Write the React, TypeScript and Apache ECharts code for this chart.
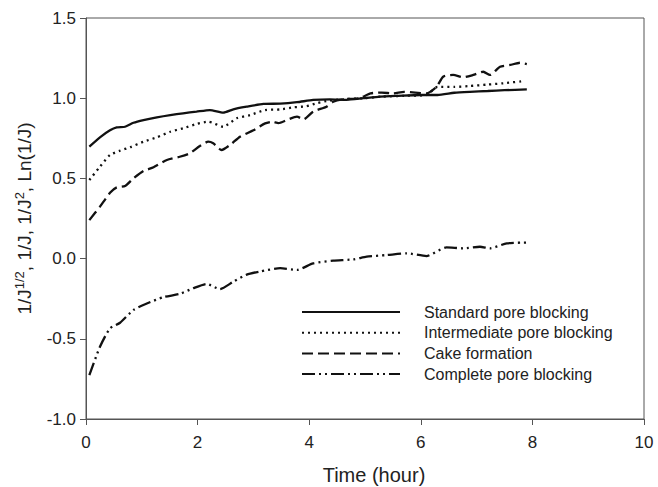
import React, { useEffect, useRef } from "react";
import * as echarts from "echarts";

const seriesNames = [
  "Standard pore blocking",
  "Intermediate pore blocking",
  "Cake formation",
  "Complete pore blocking",
];

const standardT = [0.06, 0.25, 0.43, 0.55, 0.7, 0.85, 1.03, 1.27, 1.51, 1.74, 1.98, 2.22, 2.46, 2.64, 2.88, 3.18, 3.48, 3.78, 4.07, 4.37, 4.67, 4.97, 5.27, 5.6, 5.99, 6.3, 6.6, 6.88, 7.2, 7.5, 7.9];
const standardV = [0.698, 0.756, 0.8, 0.818, 0.822, 0.847, 0.864, 0.881, 0.895, 0.906, 0.916, 0.926, 0.91, 0.931, 0.947, 0.964, 0.966, 0.975, 0.989, 0.993, 0.99, 1.0, 1.01, 1.015, 1.02, 1.02, 1.034, 1.04, 1.045, 1.05, 1.055];

const intermediateT = [0.06, 0.25, 0.43, 0.61, 0.79, 1.03, 1.27, 1.51, 1.74, 1.98, 2.19, 2.46, 2.7, 2.94, 3.21, 3.48, 3.72, 3.95, 4.15, 4.35, 4.7, 5.0, 5.3, 5.7, 6.1, 6.3, 6.6, 6.88, 7.2, 7.48, 7.85];
const intermediateV = [0.49, 0.573, 0.646, 0.673, 0.694, 0.729, 0.756, 0.791, 0.812, 0.839, 0.854, 0.822, 0.875, 0.895, 0.926, 0.93, 0.943, 0.95, 0.97, 0.985, 0.995, 1.0, 1.01, 1.015, 1.02, 1.07, 1.07, 1.076, 1.085, 1.093, 1.107];

const cakeT = [0.06, 0.25, 0.43, 0.55, 0.7, 0.85, 1.03, 1.21, 1.45, 1.68, 1.86, 2.04, 2.19, 2.28, 2.43, 2.58, 2.76, 3.0, 3.21, 3.33, 3.45, 3.6, 3.78, 3.9, 4.07, 4.31, 4.43, 4.6, 4.9, 5.1, 5.3, 5.5, 5.7, 5.9, 6.1, 6.28, 6.4, 6.58, 6.76, 6.94, 7.12, 7.24, 7.42, 7.6, 7.78, 7.9];
const cakeV = [0.24, 0.324, 0.41, 0.444, 0.453, 0.5, 0.546, 0.569, 0.615, 0.635, 0.656, 0.702, 0.729, 0.719, 0.677, 0.708, 0.76, 0.8, 0.843, 0.853, 0.845, 0.864, 0.885, 0.868, 0.916, 0.947, 0.978, 0.993, 1.0, 1.03, 1.035, 1.03, 1.04, 1.035, 1.03, 1.07, 1.134, 1.145, 1.13, 1.145, 1.165, 1.145, 1.196, 1.207, 1.221, 1.213];

const completeT = [0.06, 0.25, 0.43, 0.61, 0.85, 1.09, 1.39, 1.68, 1.92, 2.16, 2.4, 2.64, 2.88, 3.12, 3.48, 3.78, 4.07, 4.43, 4.79, 5.03, 5.39, 5.75, 6.1, 6.46, 6.76, 7.06, 7.24, 7.54, 7.89];
const completeV = [-0.726, -0.55, -0.435, -0.4, -0.32, -0.28, -0.24, -0.22, -0.185, -0.158, -0.19, -0.144, -0.1, -0.08, -0.06, -0.07, -0.03, -0.013, -0.005, 0.012, 0.022, 0.033, 0.016, 0.07, 0.064, 0.074, 0.064, 0.095, 0.1];

const xTicks = { min: 0, max: 10, interval: 2 };
const yTicks = { min: -1, max: 1.5, interval: 0.5 };

const pair = (t: number[], v: number[]) => t.map((x, i) => [x, v[i]]);

const FONT = 'Arial, "Liberation Sans", sans-serif';
const AXIS = "#555";
const INK = "#111";

export default function App() {
  const ref = useRef<HTMLDivElement>(null);
  useEffect(() => {
    if (!ref.current) return;
    const chart = echarts.init(ref.current, null, { renderer: "svg" });
    const dashes: any[] = ["solid", [2, 4], [11, 5], [13, 4, 2, 4, 2, 4]];
    const datas = [
      pair(standardT, standardV),
      pair(intermediateT, intermediateV),
      pair(cakeT, cakeV),
      pair(completeT, completeV),
    ];
    chart.setOption({
      animation: false,
      textStyle: { fontFamily: FONT },
      grid: {
        left: 86,
        right: 14,
        top: 18,
        bottom: 68,
        show: true,
        borderColor: AXIS,
        borderWidth: 1,
        outerBoundsMode: "none",
      },
      legend: {
        orient: "vertical",
        left: 301,
        top: 304,
        padding: 0,
        itemWidth: 98,
        itemHeight: 14,
        itemGap: 4.7,
        data: seriesNames,
        itemStyle: { opacity: 0, borderWidth: 0 },
        textStyle: {
          fontFamily: FONT,
          fontSize: 16,
          lineHeight: 16,
          color: "#222",
          padding: [0, 0, 0, 19],
        },
      },
      xAxis: {
        type: "value",
        min: xTicks.min,
        max: xTicks.max,
        interval: xTicks.interval,
        name: "Time (hour)",
        nameLocation: "middle",
        nameGap: 46,
        nameTextStyle: { fontFamily: FONT, fontSize: 20, color: "#222", padding: [0, 0, 0, 18] },
        axisLine: { onZero: false, lineStyle: { color: AXIS, width: 1 } },
        axisTick: { show: true, length: 6, lineStyle: { color: AXIS } },
        axisLabel: { fontFamily: FONT, fontSize: 17, color: "#222", margin: 15 },
        splitLine: { show: false },
      },
      yAxis: {
        type: "value",
        min: yTicks.min,
        max: yTicks.max,
        interval: yTicks.interval,
        name: "1/J{sup|1/2}, 1/J, 1/J{sup|2}, Ln(1/J)",
        nameLocation: "middle",
        nameGap: 50,
        nameTextStyle: {
          fontFamily: FONT,
          fontSize: 19,
          color: "#222",
          lineHeight: 23,
          rich: {
            sup: { fontFamily: FONT, fontSize: 13, color: "#222", verticalAlign: "top", lineHeight: 23 },
          },
        },
        axisLine: { show: true, onZero: false, lineStyle: { color: AXIS, width: 1 } },
        axisTick: { show: true, length: 6, lineStyle: { color: AXIS } },
        axisLabel: {
          fontFamily: FONT,
          fontSize: 17,
          color: "#222",
          margin: 10,
          formatter: (v: number) => v.toFixed(1),
        },
        splitLine: { show: false },
      },
      series: seriesNames.map((name, i) => ({
        name,
        type: "line",
        data: datas[i],
        symbol: "none",
        smooth: 0.2,
        lineStyle: { color: INK, width: 2.3, type: dashes[i] },
        itemStyle: { color: INK },
      })),
    });
    return () => chart.dispose();
  }, []);
  return (
    <div
      ref={ref}
      style={{ position: "fixed", left: 0, top: 0, width: 658, height: 487, background: "#fff" }}
    />
  );
}
